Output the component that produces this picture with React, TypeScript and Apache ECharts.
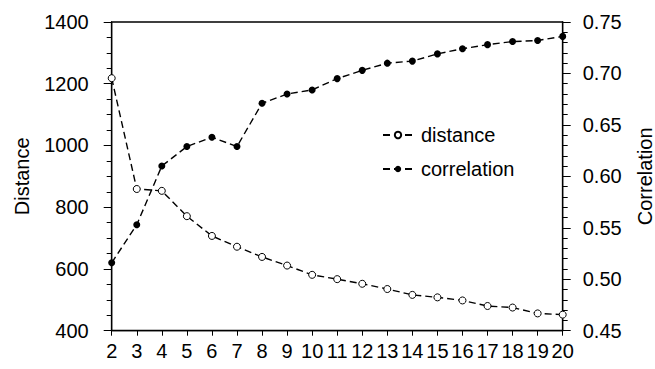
import React, { useEffect, useRef } from "react";
import * as echarts from "echarts";

const categories = ["2","3","4","5","6","7","8","9","10","11","12","13","14","15","16","17","18","19","20"];
const distance = [1218, 859, 853, 771, 707, 672, 639, 611, 581, 567, 552, 535, 516, 508, 498, 480, 475, 456, 452];
const correlation = [0.516, 0.553, 0.61, 0.629, 0.638, 0.629, 0.671, 0.68, 0.684, 0.695, 0.703, 0.71, 0.712, 0.719, 0.724, 0.728, 0.731, 0.732, 0.736];

const FONT = "Liberation Sans, Arial, Helvetica, sans-serif";
const FS = 20;

export default function App() {
  const ref = useRef<HTMLDivElement>(null);
  useEffect(() => {
    const chart = echarts.init(ref.current!, null, { renderer: "svg" });
    const lineStyle = { color: "#000", width: 1.4, type: [7, 4] as any };
    chart.setOption({
      animation: false,
      backgroundColor: "#fff",
      grid: { left: 111.7, right: 92.3, top: 22, bottom: 38.3, show: true, borderColor: "#000", borderWidth: 1.3, containLabel: false, outerBoundsMode: "none" },
      legend: {
        orient: "vertical",
        left: 377,
        top: 120,
        itemWidth: 30,
        itemHeight: 8,
        itemGap: 14,
        textStyle: { fontFamily: FONT, fontSize: FS, color: "#000", padding: [0, 0, 0, 3] },
        data: ["distance", "correlation"],
      },
      xAxis: {
        type: "category",
        data: categories,
        boundaryGap: false,
        axisLine: { lineStyle: { color: "#000", width: 1.3 } },
        axisTick: { length: 5, alignWithLabel: true, lineStyle: { color: "#000", width: 1 } },
        axisLabel: { interval: 0, fontFamily: FONT, fontSize: FS, color: "#000", margin: 10 },
        splitLine: { show: false },
      },
      yAxis: [
        {
          type: "value",
          min: 400,
          max: 1400,
          interval: 200,
          name: "Distance",
          nameLocation: "middle",
          nameGap: 80,
          nameTextStyle: { fontFamily: FONT, fontSize: FS, color: "#000" },
          axisLine: { show: true, lineStyle: { color: "#000", width: 1.3 } },
          axisTick: { show: true, length: 8, lineStyle: { color: "#000", width: 1 } },
          minorTick: { show: true, splitNumber: 4, length: 5, lineStyle: { color: "#000", width: 1 } },
          axisLabel: { fontFamily: FONT, fontSize: FS, color: "#000", margin: 23, formatter: (v: number) => String(v) },
          splitLine: { show: false },
        },
        {
          type: "value",
          min: 0.45,
          max: 0.75,
          interval: 0.05,
          position: "right",
          name: "Correlation",
          nameLocation: "middle",
          nameGap: 72,
          nameRotate: 90,
          nameTextStyle: { fontFamily: FONT, fontSize: FS, color: "#000" },
          axisLine: { show: true, lineStyle: { color: "#000", width: 1.3 } },
          axisTick: { show: true, length: 8, lineStyle: { color: "#000", width: 1 } },
          minorTick: { show: true, splitNumber: 5, length: 5, lineStyle: { color: "#000", width: 1 } },
          axisLabel: { fontFamily: FONT, fontSize: FS, color: "#000", margin: 20, formatter: (v: number) => v.toFixed(2) },
          splitLine: { show: false },
        },
      ],
      series: [
        {
          name: "distance",
          type: "line",
          yAxisIndex: 0,
          data: distance,
          symbol: "circle",
          symbolSize: 7,
          color: "#000",
          lineStyle,
          itemStyle: { color: "#fff", borderColor: "#000", borderWidth: 1 },
        },
        {
          name: "correlation",
          type: "line",
          yAxisIndex: 1,
          data: correlation,
          symbol: "circle",
          symbolSize: 7,
          color: "#000",
          lineStyle,
          itemStyle: { color: "#000" },
        },
      ],
    });
    return () => chart.dispose();
  }, []);
  return <div ref={ref} style={{ width: 655, height: 369, position: "absolute", left: 0, top: 0 }} />;
}
